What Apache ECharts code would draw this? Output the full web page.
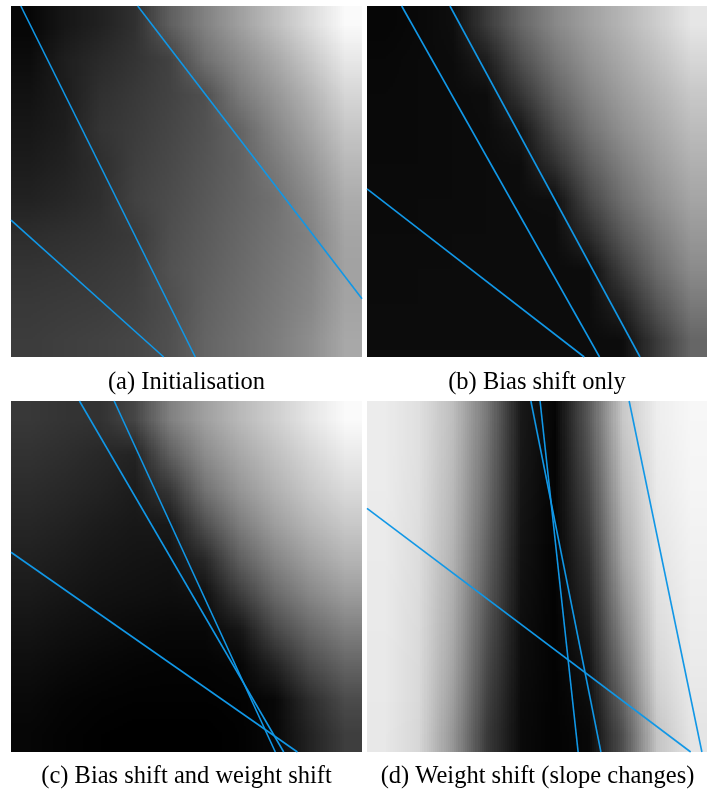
<!DOCTYPE html>
<html>
<head>
<meta charset="utf-8">
<script src="https://cdn.jsdelivr.net/npm/echarts@6/dist/echarts.min.js"></script>
<style>
html,body{margin:0;padding:0;background:#fff;}
#chart{width:707px;height:791px;}
</style>
</head>
<body>
<div id="chart"></div>
<script>
// ---- data (normalised panel coordinates, y up) ----
const captions = [
  '(a) Initialisation',
  '(b) Bias shift only',
  '(c) Bias shift and weight shift',
  '(d) Weight shift (slope changes)'
];

const linesA = [
  [[0.028, 1], [0.525, 0]],
  [[0.361, 1], [1, 0.166]],
  [[0, 0.39], [0.435, 0]]
];
const linesB = [
  [[0.102, 1], [0.684, 0]],
  [[0.244, 1], [0.803, 0]],
  [[0, 0.479], [0.639, 0]]
];
const linesC = [
  [[0.195, 1], [0.777, 0]],
  [[0.294, 1], [0.753, 0]],
  [[0, 0.569], [0.816, 0]]
];
const linesD = [
  [[0.482, 1], [0.688, 0]],
  [[0.509, 1], [0.621, 0]],
  [[0, 0.694], [0.952, 0]],
  [[0.771, 1], [0.985, 0]]
];

// grey level (0-255) sampled on a 10x10 grid of cell centres, rows top -> bottom
const shadeA = [
  [6, 22, 33, 48, 95, 130, 160, 190, 220, 250],
  [12, 30, 42, 52, 66, 112, 140, 168, 199, 232],
  [18, 28, 48, 57, 67, 80, 122, 150, 180, 214],
  [23, 30, 52, 60, 70, 82, 100, 135, 165, 198],
  [28, 34, 46, 63, 73, 85, 98, 122, 150, 184],
  [34, 39, 47, 66, 76, 88, 100, 113, 138, 172],
  [45, 48, 52, 58, 79, 91, 103, 116, 130, 165],
  [52, 54, 57, 62, 82, 94, 106, 119, 133, 162],
  [57, 59, 61, 66, 78, 97, 109, 122, 136, 164],
  [60, 63, 66, 70, 80, 100, 112, 125, 142, 168]
];
const shadeB = [
  [6, 9, 14, 59, 103, 136, 160, 182, 205, 230],
  [8, 10, 12, 30, 80, 118, 147, 170, 192, 215],
  [9, 10, 11, 13, 53, 98, 132, 158, 179, 200],
  [9, 10, 11, 12, 22, 74, 115, 145, 167, 188],
  [10, 10, 11, 12, 13, 47, 93, 128, 155, 176],
  [10, 11, 11, 12, 13, 14, 70, 112, 142, 165],
  [11, 11, 12, 12, 12, 12, 42, 89, 124, 152],
  [11, 12, 12, 12, 12, 12, 12, 64, 108, 139],
  [12, 12, 12, 12, 12, 12, 12, 35, 84, 121],
  [12, 12, 12, 12, 12, 12, 12, 13, 58, 102]
];
const shadeC = [
  [56, 52, 50, 70, 128, 160, 185, 207, 230, 250],
  [50, 46, 40, 35, 95, 140, 168, 192, 214, 234],
  [44, 40, 35, 28, 55, 115, 150, 177, 200, 218],
  [38, 34, 28, 24, 25, 80, 125, 158, 182, 200],
  [32, 28, 23, 20, 18, 40, 95, 133, 160, 180],
  [26, 22, 18, 16, 14, 16, 60, 105, 135, 156],
  [20, 16, 13, 10, 8, 8, 22, 72, 105, 128],
  [14, 10, 7, 5, 4, 4, 6, 35, 75, 100],
  [9, 5, 3, 2, 2, 2, 3, 8, 45, 75],
  [6, 3, 1, 0, 0, 0, 2, 8, 35, 62]
];
const shadeD = [
  [236, 224, 190, 120, 25, 5, 90, 200, 238, 247],
  [236, 224, 188, 115, 24, 4, 82, 192, 236, 246],
  [236, 223, 185, 110, 22, 4, 72, 184, 234, 245],
  [235, 222, 182, 104, 20, 3, 62, 175, 231, 243],
  [235, 221, 178, 97, 18, 3, 50, 165, 228, 241],
  [234, 220, 174, 90, 16, 3, 40, 150, 224, 239],
  [234, 219, 170, 82, 14, 3, 30, 135, 220, 237],
  [233, 218, 165, 74, 13, 3, 20, 118, 214, 235],
  [233, 217, 158, 66, 11, 3, 13, 100, 206, 232],
  [232, 215, 150, 58, 10, 3, 8, 80, 196, 229]
];

// ---- layout / style ----
const panelLines = [linesA, linesB, linesC, linesD];
const panelShades = [shadeA, shadeB, shadeC, shadeD];
const grids = [
  {left: 11, top: 6, width: 351, height: 351},
  {left: 367, top: 6, width: 340, height: 351},
  {left: 11, top: 401, width: 351, height: 351},
  {left: 367, top: 401, width: 340, height: 351}
];
const captionPos = [[186.5, 383], [537, 383], [186.5, 777], [537.5, 777]];
const lineColor = '#1197e6';

function makeImage(grid) {
  const rows = grid.length, cols = grid[0].length;
  const cv = document.createElement('canvas');
  cv.width = cols; cv.height = rows;
  const ctx = cv.getContext('2d');
  const img = ctx.createImageData(cols, rows);
  for (let r = 0; r < rows; r++) {
    for (let c = 0; c < cols; c++) {
      const k = (r * cols + c) * 4;
      const v = grid[r][c];
      img.data[k] = v; img.data[k + 1] = v; img.data[k + 2] = v; img.data[k + 3] = 255;
    }
  }
  ctx.putImageData(img, 0, 0);
  return cv;
}

const xAxes = [], yAxes = [], series = [];
grids.forEach((g, i) => {
  xAxes.push({type: 'value', gridIndex: i, min: 0, max: 1, show: false});
  yAxes.push({type: 'value', gridIndex: i, min: 0, max: 1, show: false});
  const imgEl = makeImage(panelShades[i]);
  series.push({
    type: 'custom',
    xAxisIndex: i, yAxisIndex: i,
    silent: true, z: 1,
    data: [[0, 0]],
    renderItem: function (params, api) {
      const p0 = api.coord([0, 1]);
      const p1 = api.coord([1, 0]);
      return {
        type: 'image',
        style: {image: imgEl, x: p0[0], y: p0[1], width: p1[0] - p0[0], height: p1[1] - p0[1]}
      };
    }
  });
  panelLines[i].forEach(seg => {
    series.push({
      type: 'line',
      xAxisIndex: i, yAxisIndex: i,
      data: seg,
      showSymbol: false, symbol: 'none',
      silent: true, z: 3, clip: true,
      lineStyle: {color: lineColor, width: 1.6}
    });
  });
});

const graphics = captions.map((t, i) => ({
  type: 'text',
  x: captionPos[i][0], y: captionPos[i][1],
  style: {
    text: t,
    font: '24.5px "Liberation Serif", "Times New Roman", serif',
    fill: '#000',
    textAlign: 'center',
    textVerticalAlign: 'middle'
  }
}));

const chart = echarts.init(document.getElementById('chart'), null, {renderer: 'canvas'});
chart.setOption({
  animation: false,
  backgroundColor: '#fff',
  grid: grids,
  xAxis: xAxes,
  yAxis: yAxes,
  series: series,
  graphic: graphics
});
</script>
</body>
</html>
